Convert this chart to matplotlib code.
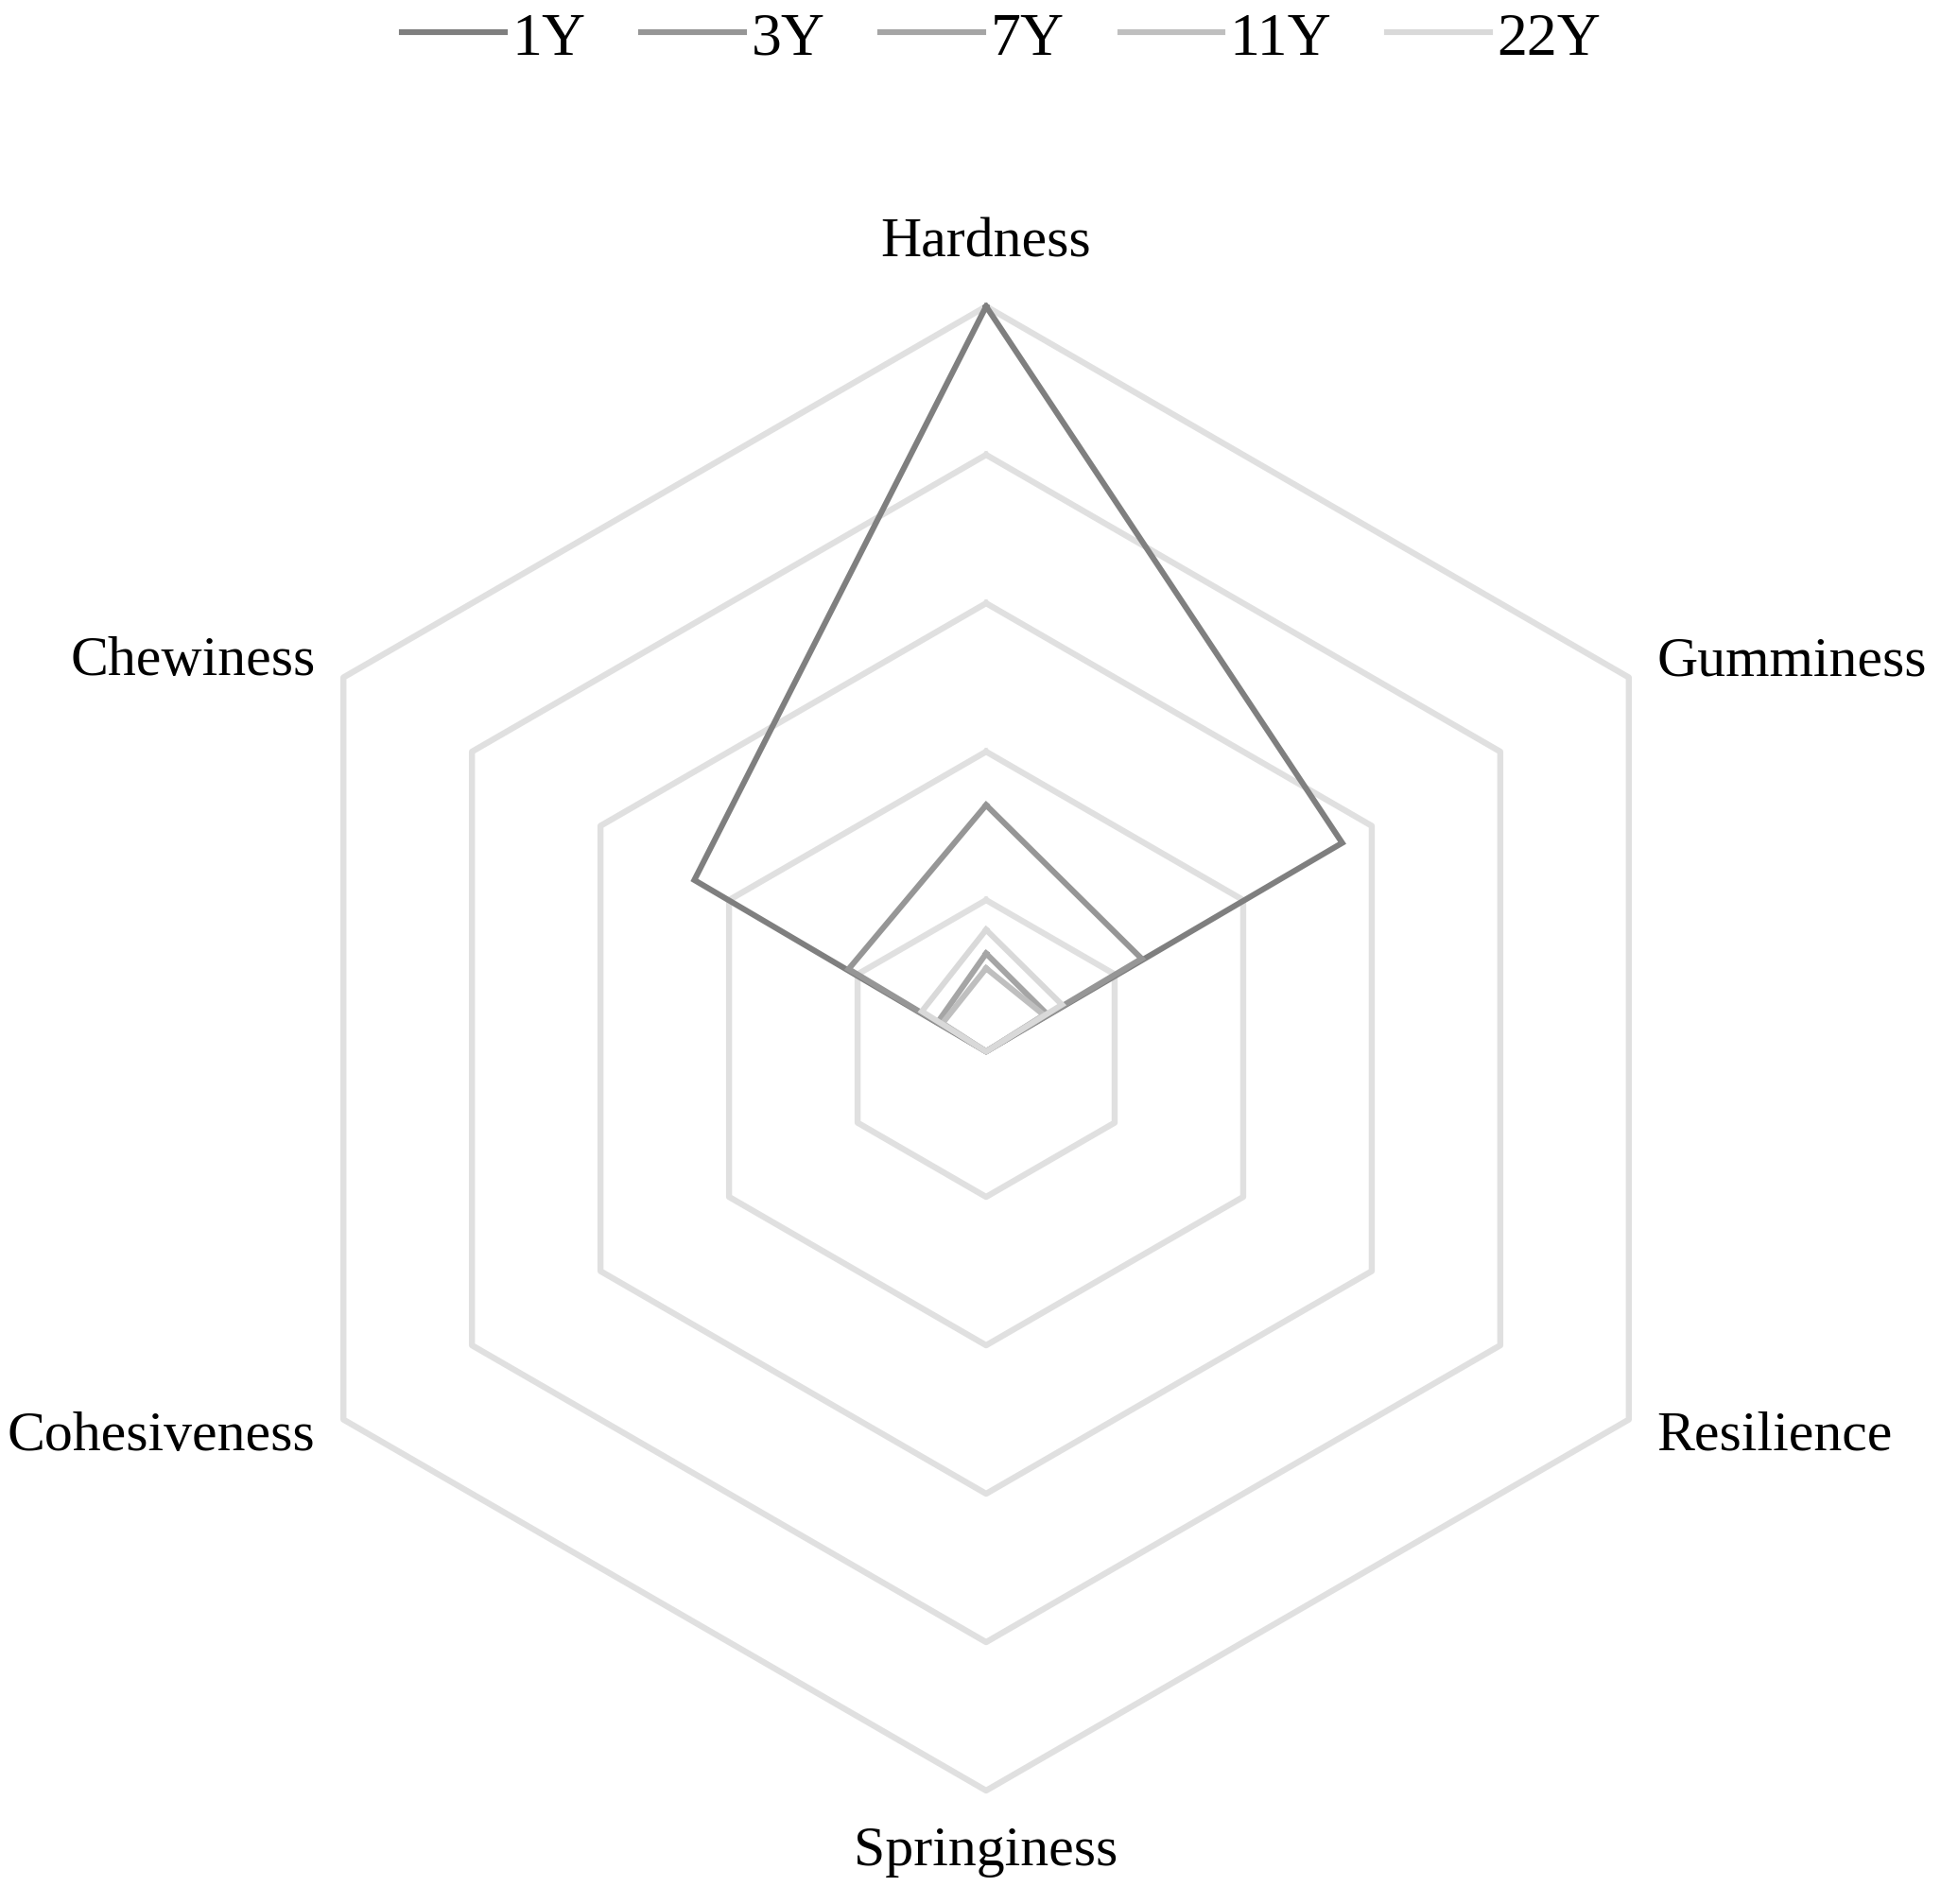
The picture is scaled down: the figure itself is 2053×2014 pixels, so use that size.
"""Radar chart of texture profile parameters by age."""

import numpy as np
import matplotlib.pyplot as plt

FIGSIZE = (2053 / 200, 2015 / 200)
DPI = 200
FONT = ["Liberation Serif", "DejaVu Serif"]
LABEL_SIZE = 21.5
LEGEND_SIZE = 23
LINE_WIDTH = 2.2
GRID_WIDTH = 2.3
GRID_COLOR = "#e0e0e0"

categories = ["Hardness", "Gumminess", "Resilience", "Springiness", "Cohesiveness", "Chewiness"]
series_names = ["1Y", "3Y", "7Y", "11Y", "22Y"]
values_1y = [5.00, 2.77, 0.02, 0.02, 0.02, 2.27]
values_3y = [1.64, 1.21, 0.02, 0.02, 0.02, 1.07]
values_7y = [0.64, 0.47, 0.02, 0.02, 0.02, 0.37]
values_11y = [0.54, 0.45, 0.02, 0.02, 0.02, 0.34]
values_22y = [0.80, 0.59, 0.02, 0.02, 0.02, 0.50]
series_colors = ["#7f7f7f", "#969696", "#a5a5a5", "#bfbfbf", "#d9d9d9"]
grid_levels = [1, 2, 3, 4, 5]

plt.rcParams["font.family"] = FONT

fig = plt.figure(figsize=FIGSIZE, dpi=DPI, facecolor="white")
ax = fig.add_axes([0.1257, 0.0595, 0.7647, 0.7792], projection="polar")
ax.set_theta_offset(np.pi / 2)
ax.set_theta_direction(-1)

angles = np.linspace(0, 2 * np.pi, len(categories), endpoint=False)
closed = np.concatenate([angles, angles[:1]])

# hexagonal grid rings instead of circles
for level in grid_levels:
    ax.plot(closed, [level] * len(closed), color=GRID_COLOR, lw=GRID_WIDTH,
            clip_on=False, zorder=1)

all_values = [values_1y, values_3y, values_7y, values_11y, values_22y]
for name, vals, color in zip(series_names, all_values, series_colors):
    vals = list(vals) + [vals[0]]
    ax.plot(closed, vals, color=color, lw=LINE_WIDTH, label=name,
            clip_on=False, zorder=3, solid_joinstyle="miter")

ax.set_ylim(0, max(grid_levels))
ax.grid(False)
ax.spines["polar"].set_visible(False)
ax.set_xticks([])
ax.set_yticks([])
ax.set_facecolor("white")

# category labels placed around the outer ring
label_pos = {
    "Hardness": (5.43, "center"),
    "Gumminess": (5.22, "left"),
    "Resilience": (5.22, "left"),
    "Springiness": (5.41, "center"),
    "Cohesiveness": (5.22, "right"),
    "Chewiness": (5.22, "right"),
}
for ang, cat in zip(angles, categories):
    r, ha = label_pos[cat]
    ax.text(ang, r, cat, ha=ha, va="center", fontsize=LABEL_SIZE,
            color="black", clip_on=False)

fig.legend(loc="center", bbox_to_anchor=(0.516, 0.979), ncol=5, frameon=False,
           fontsize=LEGEND_SIZE, handlelength=1.7, handletextpad=0.12,
           columnspacing=0.92)

fig.savefig("out.png", dpi=DPI, facecolor="white")
